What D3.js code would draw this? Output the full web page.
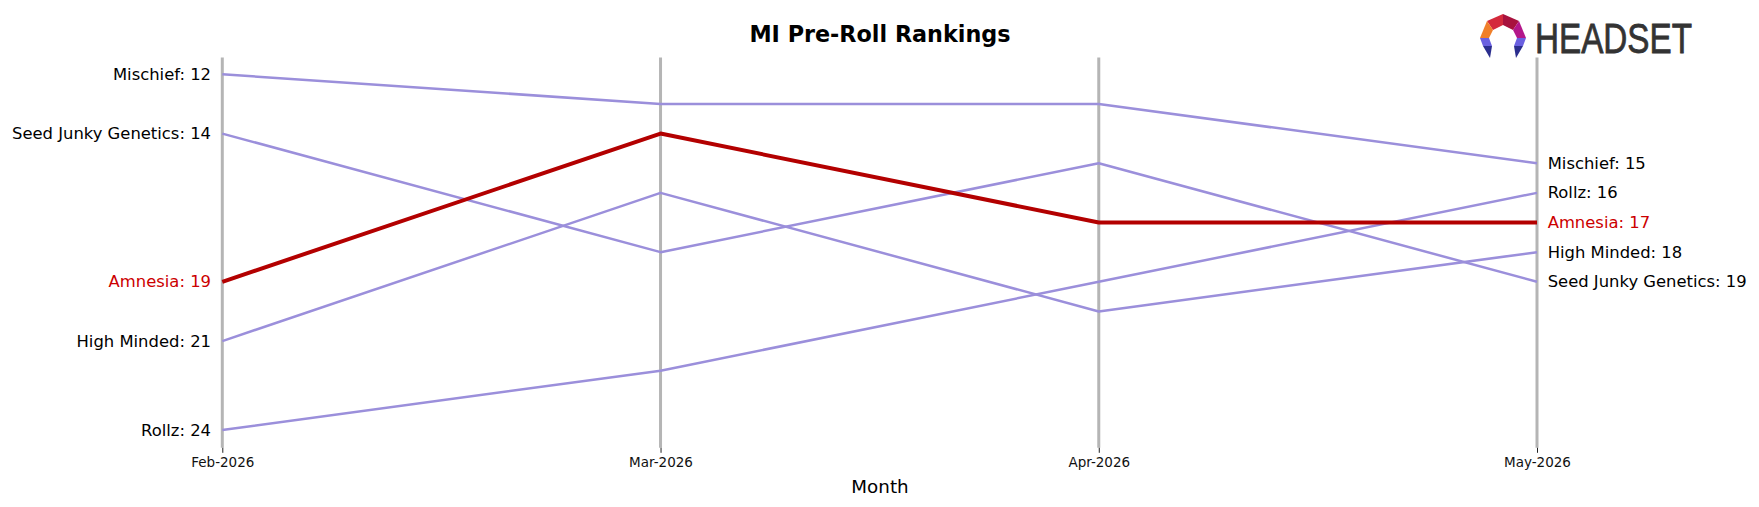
<!DOCTYPE html>
<html>
<head>
<meta charset="utf-8">
<script src="https://cdn.jsdelivr.net/npm/d3@7"></script>
<style>
  html, body { margin: 0; padding: 0; background: #fff; }
  svg { display: block; font-family: "DejaVu Sans", sans-serif; }
</style>
</head>
<body>
<svg id="chart" width="1759" height="507"></svg>
<script>
// ---- data ----
const months = ["Feb-2026", "Mar-2026", "Apr-2026", "May-2026"];
const brands = ["Mischief", "Seed Junky Genetics", "High Minded", "Rollz", "Amnesia"];
const mischiefRanks = [12, 13, 13, 15];
const seedJunkyRanks = [14, 18, 15, 19];
const highMindedRanks = [21, 16, 20, 18];
const rollzRanks = [24, 22, 19, 16];
const amnesiaRanks = [19, 14, 17, 17];
const highlightBrand = "Amnesia";
const chartTitle = "MI Pre-Roll Rankings";
const xAxisTitle = "Month";

const series = [
  { name: "Mischief", ranks: mischiefRanks },
  { name: "Seed Junky Genetics", ranks: seedJunkyRanks },
  { name: "High Minded", ranks: highMindedRanks },
  { name: "Rollz", ranks: rollzRanks },
  { name: "Amnesia", ranks: amnesiaRanks }
];

// ---- layout ----
const svg = d3.select("#chart");
const x = d3.scalePoint().domain(months).range([222.3, 1537]);
const y = d3.scaleLinear().domain([12, 24]).range([74.3, 430]);
const yTop = y(11.43), yBottom = y(24.6);

const purple = "#9b8fdb";
const red = "#b30000";
const redText = "#cc0000";

// vertical month lines
svg.append("g").selectAll("line").data(months).join("line")
  .attr("x1", d => x(d)).attr("x2", d => x(d))
  .attr("y1", yTop).attr("y2", yBottom)
  .attr("stroke", "#b5b5b5").attr("stroke-width", 3);

// x axis (ticks + labels)
const xAxis = d3.axisBottom(x).tickSize(5).tickPadding(5);
const gx = svg.append("g").attr("transform", `translate(0,${yBottom})`).call(xAxis);
gx.select(".domain").remove();
gx.selectAll(".tick line").attr("stroke", "#222").attr("stroke-width", 1);
gx.selectAll(".tick text")
  .attr("font-family", "DejaVu Sans")
  .attr("font-size", "13.5px")
  .attr("fill", "#111");

// lines
const line = d3.line().x((d, i) => x(months[i])).y(d => y(d));
const ordered = series.filter(s => s.name !== highlightBrand)
  .concat(series.filter(s => s.name === highlightBrand));
svg.append("g").selectAll("path").data(ordered).join("path")
  .attr("d", s => line(s.ranks))
  .attr("fill", "none")
  .attr("stroke", s => s.name === highlightBrand ? red : purple)
  .attr("stroke-width", s => s.name === highlightBrand ? 4 : 2.5)
  .attr("stroke-linejoin", "round");

// left labels
svg.append("g").selectAll("text").data(series).join("text")
  .attr("x", x(months[0]) - 11.3)
  .attr("y", s => y(s.ranks[0]))
  .attr("text-anchor", "end")
  .attr("dominant-baseline", "central")
  .attr("font-size", "16.4px")
  .attr("fill", s => s.name === highlightBrand ? redText : "#000")
  .text(s => `${s.name}: ${s.ranks[0]}`);

// right labels
const last = months.length - 1;
svg.append("g").selectAll("text").data(series).join("text")
  .attr("x", x(months[last]) + 10.7)
  .attr("y", s => y(s.ranks[last]))
  .attr("text-anchor", "start")
  .attr("dominant-baseline", "central")
  .attr("font-size", "16.4px")
  .attr("fill", s => s.name === highlightBrand ? redText : "#000")
  .text(s => `${s.name}: ${s.ranks[last]}`);

// title
svg.append("text")
  .attr("x", 880).attr("y", 42.3)
  .attr("text-anchor", "middle")
  .attr("font-size", "22.3px").attr("font-weight", "bold")
  .attr("fill", "#000")
  .text(chartTitle);

// x axis title
svg.append("text")
  .attr("x", 880).attr("y", 486.7)
  .attr("text-anchor", "middle")
  .attr("dominant-baseline", "central")
  .attr("font-size", "18.3px")
  .attr("fill", "#000")
  .text(xAxisTitle);

// logo
const logo = svg.append("g");
const pieces = [
  { c: "#d42a3c", p: [[1503,14],[1487,21],[1493,30],[1503,25]] },
  { c: "#a8123e", p: [[1503,14],[1519,21],[1513,30],[1503,25]] },
  { c: "#f07f2a", p: [[1487,21],[1480,38],[1489,38],[1493,30]] },
  { c: "#b3178a", p: [[1519,21],[1526,38],[1517,38],[1513,30]] },
  { c: "#6a60e0", p: [[1480,38],[1483,46],[1492,46],[1489,38]] },
  { c: "#6a60e0", p: [[1526,38],[1523,46],[1514,46],[1517,38]] },
  { c: "#2b2e8e", p: [[1483,46],[1490,58],[1492,46]] },
  { c: "#2b2e8e", p: [[1523,46],[1516,58],[1514,46]] }
];
logo.selectAll("polygon").data(pieces).join("polygon")
  .attr("points", d => d.p.map(q => q.join(",")).join(" "))
  .attr("fill", d => d.c);
logo.append("text")
  .attr("x", 1535).attr("y", 53)
  .attr("font-family", "Liberation Sans, Arial, sans-serif")
  .attr("font-size", "43px")
  .attr("textLength", 157)
  .attr("lengthAdjust", "spacingAndGlyphs")
  .attr("fill", "#333")
  .attr("stroke", "#333")
  .attr("stroke-width", 0.8)
  .text("HEADSET");
</script>
</body>
</html>
